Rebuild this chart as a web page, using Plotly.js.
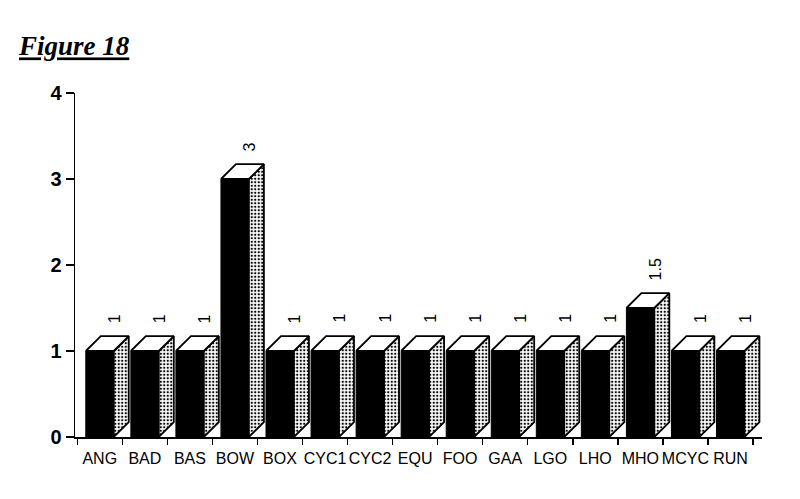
<!DOCTYPE html>
<html>
<head>
<meta charset="utf-8">
<script src="https://cdn.plot.ly/plotly-3.0.1.min.js"></script>
<style>html,body{margin:0;padding:0;background:#fff;}#chart{width:800px;height:499px;}</style>
</head>
<body>
<div id="chart"></div>
<script>
// ---- data ----
const categories = ['ANG','BAD','BAS','BOW','BOX','CYC1','CYC2','EQU','FOO','GAA','LGO','LHO','MHO','MCYC','RUN'];
const values = [1, 1, 1, 3, 1, 1, 1, 1, 1, 1, 1, 1, 1.5, 1, 1];
const valueLabels = ['1','1','1','3','1','1','1','1','1','1','1','1','1.5','1','1'];
const yTickVals = [0, 1, 2, 3, 4];
const yTickText = ['0', '1', '2', '3', '4'];

// ---- 3D bar geometry (style) ----
const BAR_W = 0.62;   // front face width, in category units
const DX = 0.333;     // depth offset in x (category units)
const DY = 0.174;     // depth offset in y (data units)

const idx = categories.map((c, i) => i);

const topX = [], topY = [], sideX = [], sideY = [];
idx.forEach(i => {
  const v = values[i];
  const l = i - BAR_W / 2, r = i + BAR_W / 2;
  topX.push(l, r, r + DX, l + DX, l, null);
  topY.push(v, v, v + DY, v + DY, v, null);
  sideX.push(r, r + DX, r + DX, r, r, null);
  sideY.push(0, DY, v + DY, v, 0, null);
});

const frontTrace = {
  type: 'bar', x: idx, y: values, width: BAR_W,
  marker: {color: '#000', line: {color: '#000', width: 1}},
  hoverinfo: 'skip', showlegend: false
};
const topTrace = {
  type: 'scatter', mode: 'lines', x: topX, y: topY, fill: 'toself',
  fillcolor: '#fff', line: {color: '#000', width: 1.8},
  hoverinfo: 'skip', showlegend: false
};
const sideTrace = {
  type: 'scatter', mode: 'lines', x: sideX, y: sideY, fill: 'toself',
  fillcolor: '#fff',
  fillpattern: {shape: '.', fgcolor: '#000', bgcolor: '#fff', size: 3.5, solidity: 0.35},
  line: {color: '#000', width: 1.8},
  hoverinfo: 'skip', showlegend: false
};

const annotations = idx.map(i => ({
  x: i + DX, y: values[i] + DY, xref: 'x', yref: 'y',
  text: valueLabels[i], textangle: -90, showarrow: false,
  xanchor: 'center', yanchor: 'bottom', yshift: 11,
  font: {family: 'Liberation Sans, Arial, sans-serif', size: 16, color: '#000'}
}));

const layout = {
  width: 800, height: 499,
  margin: {l: 75, r: 38, t: 93, b: 62},
  paper_bgcolor: '#fff', plot_bgcolor: '#fff',
  title: {
    text: 'Figure 18',
    xref: 'container', yref: 'container',
    x: 19 / 800, xanchor: 'left',
    y: 1 - 46 / 499, yanchor: 'middle',
    font: {family: 'Liberation Serif, Times New Roman, serif', size: 27, color: '#000',
           weight: 'bold', style: 'italic', lineposition: 'under'}
  },
  xaxis: {
    range: [-0.55, 14.7],
    tickmode: 'array', tickvals: idx, ticktext: categories,
    ticks: '', showgrid: false, zeroline: false,
    showline: true, linecolor: '#000', linewidth: 1.5,
    ticklabelstandoff: 6, tickangle: 0,
    tickfont: {family: 'Liberation Sans, Arial, sans-serif', size: 16, color: '#000'},
    minor: {ticks: 'outside', ticklen: 6, tickwidth: 1.5, tickcolor: '#000',
            tickmode: 'linear', tick0: -0.5, dtick: 1, showgrid: false}
  },
  yaxis: {
    range: [0, 4],
    tickmode: 'array', tickvals: yTickVals, ticktext: yTickText,
    ticks: 'outside', ticklen: 8, tickwidth: 1.5, tickcolor: '#000',
    showgrid: false, zeroline: false,
    showline: true, linecolor: '#000', linewidth: 1.5,
    tickfont: {family: 'Liberation Sans, Arial, sans-serif', size: 20, color: '#000', weight: 'bold'}
  },
  annotations: annotations,
  bargap: 0
};

Plotly.newPlot('chart', [frontTrace, sideTrace, topTrace], layout, {displayModeBar: false, staticPlot: true});
</script>
</body>
</html>
